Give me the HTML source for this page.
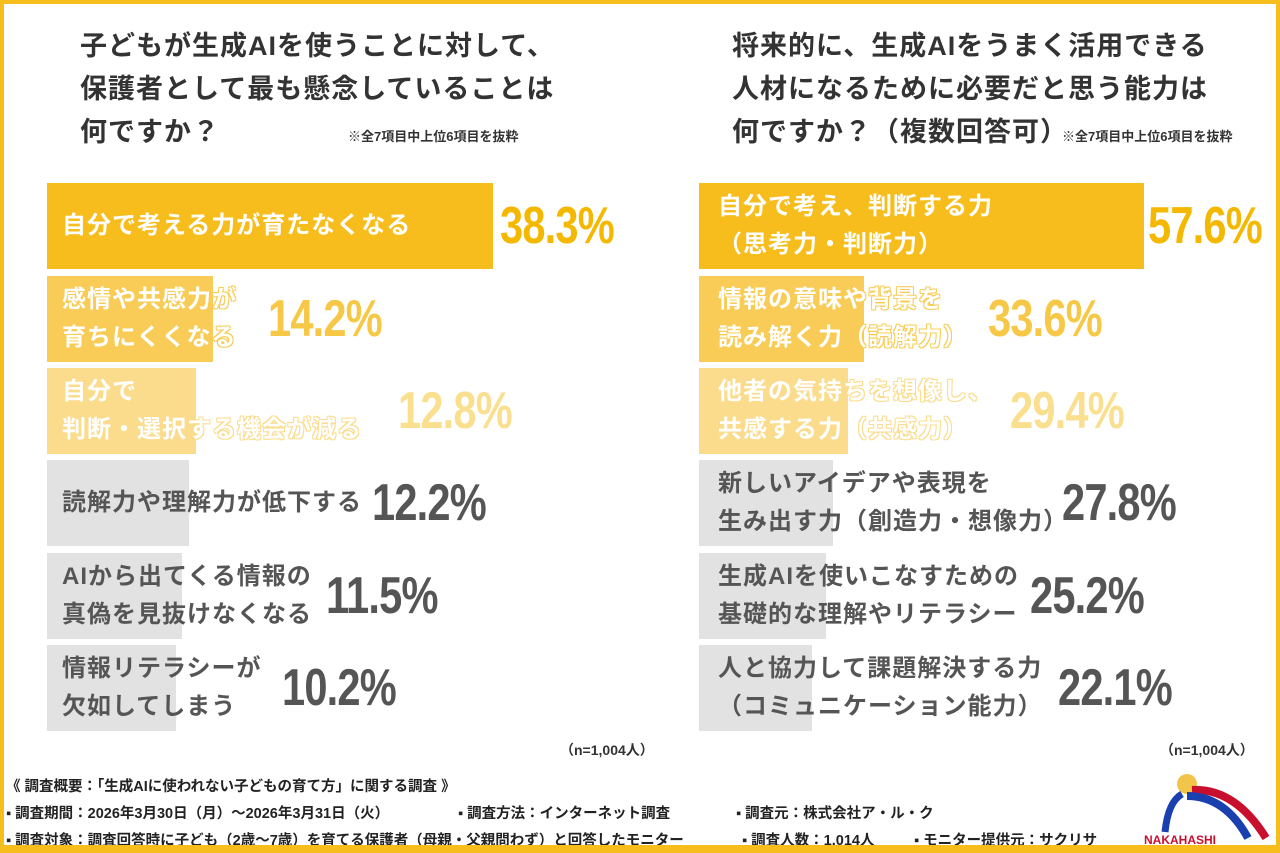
<!DOCTYPE html>
<html><head><meta charset="utf-8"><style>
*{margin:0;padding:0;box-sizing:border-box}
body{width:1280px;height:853px;overflow:hidden;background:#fff;font-family:"Liberation Sans","Noto Sans CJK JP",sans-serif;position:relative}
.frame{position:absolute;left:0;top:0;width:1280px;height:853px;border:4px solid #f7bd1c;border-bottom-width:8px}
.t{position:absolute;font-weight:bold;color:#333;font-size:27px;line-height:43px;letter-spacing:1px}
.note{position:absolute;font-size:13px;font-weight:bold;color:#333}
.bar{position:absolute;height:86px}
.lab{position:absolute;font-size:24px;letter-spacing:1px;font-weight:bold;line-height:38px;display:flex;flex-direction:column;justify-content:center;height:86px;white-space:nowrap}
.w{color:#fff}
.o{color:#fff;text-shadow:-1px -1px 0 #f8cc55,1px -1px 0 #f8cc55,-1px 1px 0 #f8cc55,1px 1px 0 #f8cc55}
.o2{color:#fff;text-shadow:-1px -1px 0 #fbdc8c,1px -1px 0 #fbdc8c,-1px 1px 0 #fbdc8c,1px 1px 0 #fbdc8c}
.g{color:#555}
.p{position:absolute;font-family:"Liberation Sans Narrow","Liberation Sans",sans-serif;font-weight:bold;font-size:52px;line-height:86px;height:86px;transform:scaleX(.8);transform-origin:left center;letter-spacing:-1px}
.f{position:absolute;font-size:14.5px;font-weight:bold;color:#222;white-space:nowrap}
</style></head><body>
<div class="t" style="left:80px;top:25px">子どもが生成AIを使うことに対して、<br>保護者として最も懸念していることは<br>何ですか？</div>
<div class="note" style="left:348px;top:126px">※全7項目中上位6項目を抜粋</div>
<div class="t" style="left:732px;top:25px">将来的に、生成AIをうまく活用できる<br>人材になるために必要だと思う能力は<br>何ですか？（複数回答可）</div>
<div class="note" style="left:1062px;top:126px">※全7項目中上位6項目を抜粋</div>

<div class="bar" style="left:47px;top:183px;width:446px;background:#f7bd1c"></div>
<div class="bar" style="left:47px;top:276px;width:166px;background:#f9cb57"></div>
<div class="bar" style="left:47px;top:368px;width:149px;background:#fbdc8c"></div>
<div class="bar" style="left:47px;top:460px;width:142px;background:#e2e2e2"></div>
<div class="bar" style="left:47px;top:553px;width:135px;background:#e2e2e2"></div>
<div class="bar" style="left:47px;top:645px;width:129px;background:#e2e2e2"></div>
<div class="lab w" style="left:62px;top:183px">自分で考える力が育たなくなる</div>
<div class="lab o" style="left:62px;top:276px"><span>感情や共感力が</span><span>育ちにくくなる</span></div>
<div class="lab o2" style="left:62px;top:368px"><span>自分で</span><span>判断・選択する機会が減る</span></div>
<div class="lab g" style="left:62px;top:460px">読解力や理解力が低下する</div>
<div class="lab g" style="left:62px;top:553px"><span>AIから出てくる情報の</span><span>真偽を見抜けなくなる</span></div>
<div class="lab g" style="left:62px;top:645px"><span>情報リテラシーが</span><span>欠如してしまう</span></div>
<div class="p" style="left:500px;top:183px;color:#f5b800">38.3%</div>
<div class="p" style="left:268px;top:276px;color:#f6c846">14.2%</div>
<div class="p" style="left:398px;top:368px;color:#fadf8f">12.8%</div>
<div class="p" style="left:372px;top:460px;color:#555">12.2%</div>
<div class="p" style="left:326px;top:553px;color:#555">11.5%</div>
<div class="p" style="left:282px;top:645px;color:#555">10.2%</div>
<div class="note" style="left:560px;top:740px;font-size:14px">（n=1,004人）</div>

<div class="bar" style="left:699px;top:183px;width:445px;background:#f7bd1c"></div>
<div class="bar" style="left:699px;top:276px;width:165px;background:#f9cb57"></div>
<div class="bar" style="left:699px;top:368px;width:149px;background:#fbdc8c"></div>
<div class="bar" style="left:699px;top:460px;width:134px;background:#e2e2e2"></div>
<div class="bar" style="left:699px;top:553px;width:127px;background:#e2e2e2"></div>
<div class="bar" style="left:699px;top:645px;width:113px;background:#e2e2e2"></div>
<div class="lab w" style="left:718px;top:183px"><span>自分で考え、判断する力</span><span>（思考力・判断力）</span></div>
<div class="lab o" style="left:718px;top:276px"><span>情報の意味や背景を</span><span>読み解く力（読解力）</span></div>
<div class="lab o2" style="left:718px;top:368px"><span>他者の気持ちを想像し、</span><span>共感する力（共感力）</span></div>
<div class="lab g" style="left:718px;top:460px"><span>新しいアイデアや表現を</span><span>生み出す力（創造力・想像力）</span></div>
<div class="lab g" style="left:718px;top:553px"><span>生成AIを使いこなすための</span><span>基礎的な理解やリテラシー</span></div>
<div class="lab g" style="left:718px;top:645px"><span>人と協力して課題解決する力</span><span>（コミュニケーション能力）</span></div>
<div class="p" style="left:1148px;top:183px;color:#f5b800">57.6%</div>
<div class="p" style="left:988px;top:276px;color:#f6c846">33.6%</div>
<div class="p" style="left:1010px;top:368px;color:#fadf8f">29.4%</div>
<div class="p" style="left:1062px;top:460px;color:#555">27.8%</div>
<div class="p" style="left:1030px;top:553px;color:#555">25.2%</div>
<div class="p" style="left:1058px;top:645px;color:#555">22.1%</div>
<div class="note" style="left:1160px;top:740px;font-size:14px">（n=1,004人）</div>

<div class="f" style="left:6px;top:775px">《 調査概要：「生成AIに使われない子どもの育て方」に関する調査 》</div>
<div class="f" style="left:6px;top:802px">▪ 調査期間：2026年3月30日（月）～2026年3月31日（火）</div>
<div class="f" style="left:458px;top:802px">▪ 調査方法：インターネット調査</div>
<div class="f" style="left:736px;top:802px">▪ 調査元：株式会社ア・ル・ク</div>
<div class="f" style="left:6px;top:829px">▪ 調査対象：調査回答時に子ども（2歳～7歳）を育てる保護者（母親・父親問わず）と回答したモニター</div>
<div class="f" style="left:742px;top:829px">▪ 調査人数：1,014人</div>
<div class="f" style="left:914px;top:829px">▪ モニター提供元：サクリサ</div>
<svg style="position:absolute;left:1140px;top:768px" width="135" height="80">
<circle cx="47" cy="16" r="10" fill="#f3c44a"/>
<path d="M52 22 Q95 20 126 70" fill="none" stroke="#c8102e" stroke-width="8"/>
<path d="M47 28 Q85 28 108 70" fill="none" stroke="#1a3fae" stroke-width="8"/>
<path d="M42 26 Q28 34 25 64" fill="none" stroke="#1a3fae" stroke-width="7"/>
<text x="4" y="76" font-family="Liberation Sans Narrow,Liberation Sans,sans-serif" font-weight="bold" font-size="12" fill="#c8102e">NAKAHASHI</text>
</svg>
<div class="frame"></div>
</body></html>
